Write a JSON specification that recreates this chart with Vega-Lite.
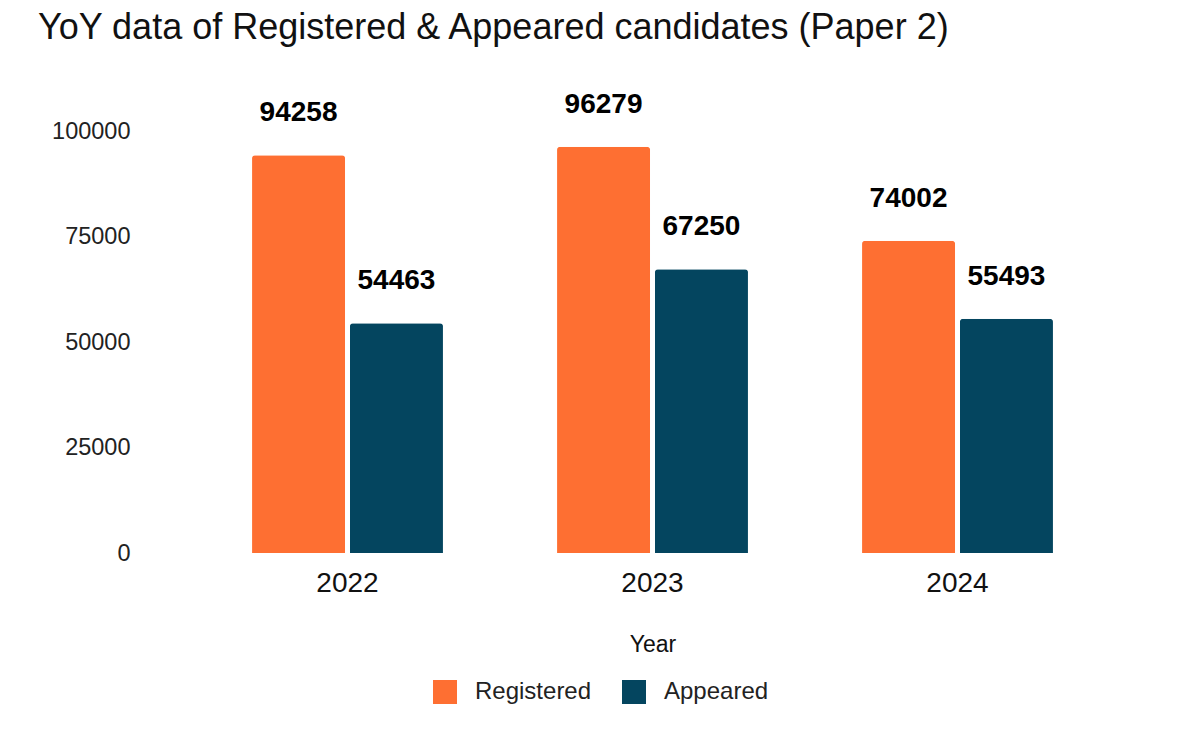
{
  "$schema": "https://vega.github.io/schema/vega-lite/v6.json",
  "autosize": {"type": "none"},
  "width": 915,
  "height": 422,
  "padding": {"left": 195, "top": 131, "right": 90, "bottom": 189},
  "background": "white",
  "title": {
    "text": "YoY data of Registered & Appeared candidates (Paper 2)",
    "anchor": "start",
    "frame": "group",
    "dx": -157,
    "offset": 16,
    "baseline": "alphabetic",
    "fontSize": 36,
    "fontWeight": "normal",
    "font": "Liberation Sans",
    "color": "#111111"
  },
  "config": {
    "view": {"stroke": null},
    "font": "Liberation Sans"
  },
  "data": {
    "values": [
      {"Year": "2022", "Type": "Registered", "Count": 94258},
      {"Year": "2022", "Type": "Appeared", "Count": 54463},
      {"Year": "2023", "Type": "Registered", "Count": 96279},
      {"Year": "2023", "Type": "Appeared", "Count": 67250},
      {"Year": "2024", "Type": "Registered", "Count": 74002},
      {"Year": "2024", "Type": "Appeared", "Count": 55493}
    ]
  },
  "encoding": {
    "x": {
      "field": "Year",
      "type": "nominal",
      "scale": {"paddingInner": 0.374, "paddingOuter": 0.187},
      "axis": {
        "labelAngle": 0,
        "ticks": false,
        "domain": false,
        "labelFontSize": 28,
        "labelColor": "#111111",
        "labelPadding": 16,
        "title": "Year",
        "titleFontSize": 23,
        "titleFontWeight": "normal",
        "titleColor": "#111111",
        "titlePadding": 36
      }
    },
    "xOffset": {
      "field": "Type",
      "type": "nominal",
      "sort": ["Registered", "Appeared"],
      "scale": {"paddingInner": 0.05}
    },
    "y": {
      "field": "Count",
      "type": "quantitative",
      "scale": {"domain": [0, 100000]},
      "axis": {
        "values": [0, 25000, 50000, 75000, 100000],
        "format": "d",
        "ticks": false,
        "domain": false,
        "grid": false,
        "labelFontSize": 23.5,
        "labelColor": "#222222",
        "labelPadding": 65,
        "title": null
      }
    }
  },
  "layer": [
    {
      "mark": {"type": "bar", "cornerRadiusTopLeft": 3, "cornerRadiusTopRight": 3},
      "encoding": {
        "color": {
          "field": "Type",
          "type": "nominal",
          "sort": ["Registered", "Appeared"],
          "scale": {"domain": ["Registered", "Appeared"], "range": ["#fe6f32", "#04455f"]},
          "legend": {
            "orient": "none",
            "legendX": 238,
            "legendY": 549,
            "direction": "horizontal",
            "title": null,
            "symbolType": "square",
            "symbolSize": 576,
            "symbolStrokeWidth": 0,
            "labelFontSize": 24,
            "labelColor": "#222222",
            "labelOffset": 18,
            "columnPadding": 30
          }
        }
      }
    },
    {
      "mark": {"type": "text", "baseline": "alphabetic", "dy": -34, "fontSize": 28, "fontWeight": "bold", "color": "#000000"},
      "encoding": {
        "text": {"field": "Count", "type": "quantitative", "format": "d"}
      }
    }
  ]
}
